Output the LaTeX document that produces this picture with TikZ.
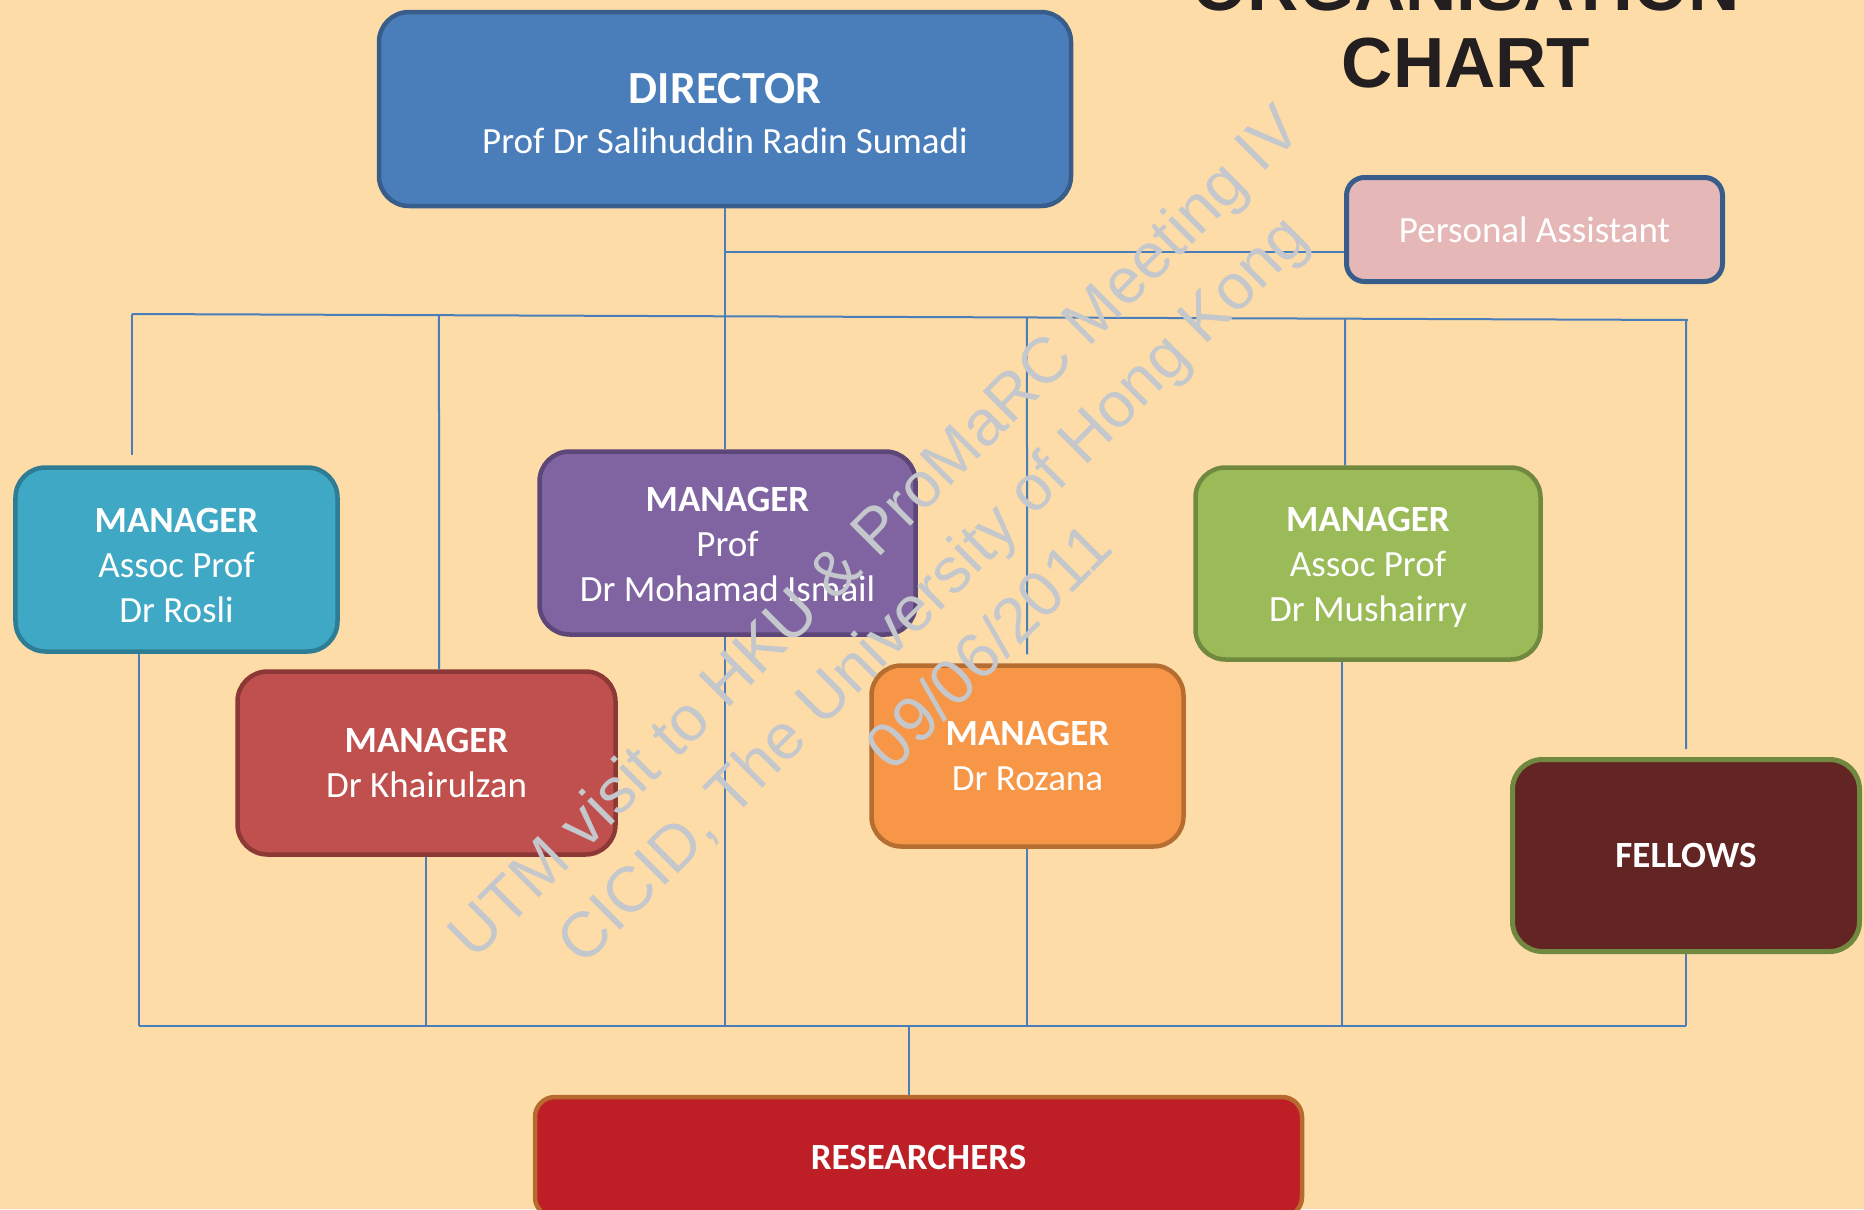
\documentclass[tikz,border=0pt]{standalone}
\usepackage{fontspec}
\setmainfont{Carlito}
\newfontfamily\headfont{Liberation Sans}
\usetikzlibrary{calc}

\definecolor{bgcream}{RGB}{253,220,168}
\definecolor{linkblue}{RGB}{74,126,187}
\definecolor{dirfill}{RGB}{74,126,187}
\definecolor{dirline}{RGB}{56,93,138}
\definecolor{pafill}{RGB}{229,184,183}
\definecolor{rosfill}{RGB}{63,169,197}
\definecolor{rosline}{RGB}{46,125,148}
\definecolor{ismfill}{RGB}{128,100,162}
\definecolor{ismline}{RGB}{93,71,120}
\definecolor{khafill}{RGB}{192,80,77}
\definecolor{khaline}{RGB}{140,56,54}
\definecolor{rozfill}{RGB}{247,150,70}
\definecolor{rozline}{RGB}{182,109,49}
\definecolor{musfill}{RGB}{155,187,89}
\definecolor{musline}{RGB}{113,137,63}
\definecolor{felfill}{RGB}{99,37,35}
\definecolor{resfill}{RGB}{190,30,38}
\definecolor{resline}{RGB}{184,105,46}
\definecolor{titleink}{RGB}{35,31,32}
\definecolor{stampgrey}{RGB}{196,199,203}

\begin{document}
\begin{tikzpicture}[x=1bp,y=-1bp]
    \tikzstyle{unit}=[rectangle,rounded corners=30bp,line width=4.5bp,text=white,align=center,inner sep=0pt,font=\fontsize{37bp}{45bp}\selectfont]
    \tikzstyle{link}=[draw=linkblue,line width=2bp]
    \tikzstyle{stamp}=[text=stampgrey,rotate=45,align=center,font=\headfont\fontsize{64bp}{81bp}\selectfont]
    \tikzstyle{heading}=[text=titleink,anchor=base,font=\headfont\bfseries\fontsize{71bp}{77bp}\selectfont]

    \path[use as bounding box,fill=bgcream] (0,0) rectangle (1864,1209);

    % title
    \node[heading] (titletop) at (1466,10) {ORGANISATION};
    \node[heading] (titlebot) at (1466,87) {CHART};

    % boxes
    \node[unit,fill=dirfill,draw=dirline,minimum width=692bp,minimum height=194bp] (director) at (725,109)
        {\rule{0pt}{40bp}{\bfseries\fontsize{46bp}{46bp}\selectfont DIRECTOR}\\[5bp]Prof Dr Salihuddin Radin Sumadi};
    \node[unit,fill=pafill,draw=dirline,rounded corners=18bp,line width=5bp,minimum width=376bp,minimum height=104bp] (pa) at (1534.5,229.5)
        {Personal Assistant};
    \node[unit,fill=rosfill,draw=rosline,minimum width=322bp,minimum height=184bp] (rosli) at (176.5,559.5)
        {\rule{0pt}{36bp}\textbf{MANAGER}\\Assoc Prof\\Dr Rosli};
    \node[unit,fill=ismfill,draw=ismline,minimum width=376bp,minimum height=183bp] (ismail) at (727.5,543)
        {\rule{0pt}{28bp}\textbf{MANAGER}\\Prof\\Dr Mohamad Ismail};
    \node[unit,fill=khafill,draw=khaline,minimum width=378bp,minimum height=183bp] (khairul) at (426.5,763)
        {\textbf{MANAGER}\\Dr Khairulzan};
    \node[unit,fill=rozfill,draw=rozline,minimum width=312bp,minimum height=181bp] (rozana) at (1027.5,756)
        {\textbf{MANAGER}\\Dr Rozana};
    \node[unit,fill=musfill,draw=musline,minimum width=345bp,minimum height=192bp] (mushairry) at (1368,563.5)
        {\rule{0pt}{32bp}\textbf{MANAGER}\\Assoc Prof\\Dr Mushairry};
    \node[unit,fill=felfill,draw=musline,line width=5bp,minimum width=347bp,minimum height=192bp] (fellows) at (1686,855.5)
        {\textbf{FELLOWS}};
    \node[unit,fill=resfill,draw=resline,rounded corners=20bp,minimum width=767bp,minimum height=120bp] (researchers) at (918.5,1157)
        {\textbf{RESEARCHERS}};

    % upper links
    \coordinate (pajoin) at (725,252);
    \coordinate (tl) at (132,314);
    \coordinate (tr) at (1688,320);
    \draw[link] (director.south -| pajoin) -- (pajoin |- ismail.north);
    \draw[link] (pajoin) -- (pajoin -| pa.west);
    \draw[link] (tl) -- (tr);
    \foreach \n/\x/\gap in {rosli/132/10, khairul/439/0, rozana/1027/9, mushairry/1345/0, fellows/1686/8}
        \draw[link,shorten >=\gap bp] ($(tl)!{(\x-132)/1556}!(tr)$) -- (\x,0 |- \n.north);

    % lower links
    \coordinate (bl) at (139,1026);
    \coordinate (br) at (1686,1026);
    \draw[link] (bl) -- (br);
    \foreach \n/\x in {rosli/139, khairul/426, ismail/725, rozana/1027, mushairry/1342, fellows/1686}
        \draw[link] (\x,0 |- \n.south) -- (\x,0 |- bl);
    \draw[link] (909,0 |- bl) -- (909,0 |- researchers.north);

    % watermark
    \node[stamp] (watermark) at (931,588)
        {UTM visit to HKU \& ProMaRC Meeting IV\\CICID, The University of Hong Kong\\09/06/2011};
\end{tikzpicture}
\end{document}
